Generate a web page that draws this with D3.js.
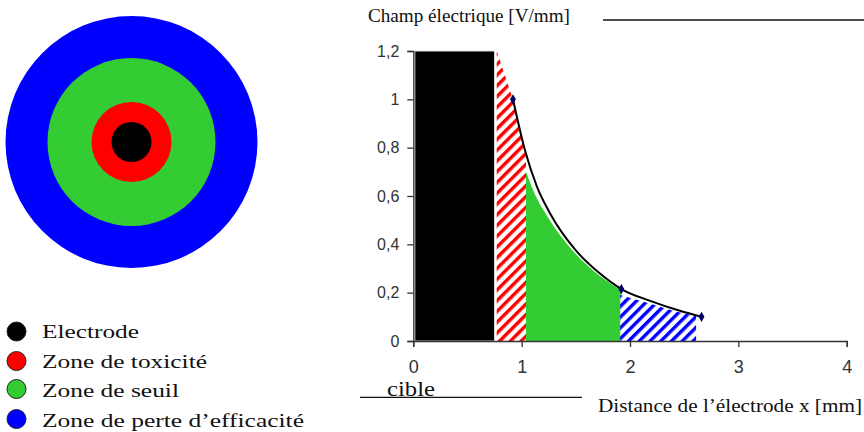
<!DOCTYPE html>
<html><head><meta charset="utf-8">
<script src="https://cdn.jsdelivr.net/npm/d3@7/dist/d3.min.js"></script>
<style>body{margin:0;background:#fff}svg{display:block}</style>
</head><body><svg id="c" width="864" height="432"></svg>
<script>
// ---- data ----
const yTicks = [0, 0.2, 0.4, 0.6, 0.8, 1, 1.2];
const xTicks = [0, 1, 2, 3, 4];
const curveX = [0.92, 1.03, 1.14, 1.26, 1.5, 1.72, 1.92, 2.18, 2.46, 2.66];
const curveY = [1.0, 0.79, 0.64, 0.53, 0.375, 0.28, 0.215, 0.167, 0.125, 0.10];
const markerX = [0.92, 1.92, 2.66];
const markerY = [1.0, 0.215, 0.10];
const electrodeX = [0, 0.75];
const electrodeTop = 1.2;
const toxX = [0.77, 0.92, 1.03, 1.04];
const toxY = [1.2, 1.0, 0.79, 0.78];
const seuilX = [1.04, 1.11, 1.26, 1.5, 1.72, 1.92];
const seuilY = [0.70, 0.62, 0.50, 0.36, 0.27, 0.21];
const perteX = [1.91, 2.18, 2.46, 2.61];
const perteY = [0.19, 0.155, 0.118, 0.105];
const zoneLabels = ["Electrode", "Zone de toxicité", "Zone de seuil", "Zone de perte d’efficacité"];
const yTitle = "Champ électrique [V/mm]";
const xTitle = "Distance de l’électrode x [mm]";
const targetLabel = "cible";

// ---- styles / layout ----
const zoneColors = ["#000000", "#ff0000", "#33cc33", "#0000ff"];
const ringRadii = [20, 40, 84, 126];
const legendY = [331.5, 361, 389, 419];
const legendBaseline = [338, 368, 397, 427];
const legendWidths = [97, 165, 137, 262];
const serif = "'Liberation Serif','Times New Roman',serif";
const sans = "'Liberation Sans',Arial,sans-serif";

const svg = d3.select("#c");
const defs = svg.append("defs");
function hatch(id, color) {
  const p = defs.append("pattern").attr("id", id).attr("patternUnits", "userSpaceOnUse")
    .attr("width", 7.6).attr("height", 7.6).attr("patternTransform", "rotate(45)");
  p.append("rect").attr("width", 7.6).attr("height", 7.6).attr("fill", "#fff");
  p.append("rect").attr("width", 3.4).attr("height", 7.6).attr("fill", color);
}
hatch("hRed", "#ff0000");
hatch("hBlue", "#0000ff");

// ---- target (concentric circles) ----
const cx = 131.5, cy = 142;
const rings = zoneColors.map((c, i) => ({c, r: ringRadii[i]})).reverse();
svg.append("g").selectAll("circle").data(rings).join("circle")
  .attr("cx", cx).attr("cy", cy).attr("r", d => d.r).attr("fill", d => d.c);

// ---- legend ----
const lg = svg.append("g");
zoneLabels.forEach((t, i) => {
  lg.append("circle").attr("cx", 16.5).attr("cy", legendY[i]).attr("r", 9.5)
    .attr("fill", zoneColors[i]).attr("stroke", "#222").attr("stroke-width", 1);
  lg.append("text").attr("x", 42).attr("y", legendBaseline[i]).text(t)
    .attr("font-family", serif).attr("font-size", 19.5).attr("fill", "#111")
    .attr("textLength", legendWidths[i]).attr("lengthAdjust", "spacingAndGlyphs");
});

// ---- chart ----
const x = d3.scaleLinear().domain([0, 4]).range([413.3, 846.7]);
const y = d3.scaleLinear().domain([0, 1.2]).range([341, 51]);
const fmt = d => String(+d.toFixed(1)).replace(".", ",");

const plot = svg.append("g");
// electrode block
plot.append("rect").attr("x", x(electrodeX[0]) + 1.5).attr("y", y(electrodeTop))
  .attr("width", x(electrodeX[1]) - x(electrodeX[0]) - 1.5).attr("height", y(0) - y(electrodeTop))
  .attr("fill", "#000").attr("stroke", "#ddd").attr("stroke-width", 1);

const areaLin = d3.area().x(d => x(d[0])).y0(y(0)).y1(d => y(d[1]));
const areaMono = d3.area().x(d => x(d[0])).y0(y(0)).y1(d => y(d[1])).curve(d3.curveMonotoneX);
plot.append("path").attr("d", areaLin(toxX.map((v, i) => [v, toxY[i]]))).attr("fill", "url(#hRed)");
plot.append("path").attr("d", areaMono(seuilX.map((v, i) => [v, seuilY[i]]))).attr("fill", "#33cc33");
plot.append("path").attr("d", areaMono(perteX.map((v, i) => [v, perteY[i]]))).attr("fill", "url(#hBlue)");

// curve
const line = d3.line().x(d => x(d[0])).y(d => y(d[1])).curve(d3.curveMonotoneX);
plot.append("path").attr("d", line(curveX.map((v, i) => [v, curveY[i]])))
  .attr("fill", "none").attr("stroke", "#000").attr("stroke-width", 2);
plot.selectAll(".mk").data(markerX.map((v, i) => [v, markerY[i]])).join("path")
  .attr("transform", d => `translate(${x(d[0])},${y(d[1])})`)
  .attr("d", d3.symbol(d3.symbolDiamond, 30)).attr("fill", "#000066");

// axes
const yAxis = svg.append("g").attr("transform", `translate(${x(0)},0)`)
  .call(d3.axisLeft(y).tickValues(yTicks).tickFormat(fmt).tickSize(6).tickSizeOuter(6).tickPadding(8));
const xAxis = svg.append("g").attr("transform", `translate(0,${y(0)})`)
  .call(d3.axisBottom(x).tickValues(xTicks).tickFormat(d3.format("d")).tickSize(6).tickSizeOuter(6).tickPadding(13));
[yAxis, xAxis].forEach(a => {
  a.selectAll("path,line").attr("stroke", "#333").attr("stroke-width", 1.3);
  a.selectAll("text").attr("font-family", sans).attr("fill", "#333");
});
yAxis.selectAll("text").attr("font-size", 16);
xAxis.selectAll("text").attr("font-size", 18);

// titles and decorative rules
svg.append("text").attr("x", 368).attr("y", 22).text(yTitle)
  .attr("font-family", serif).attr("font-size", 18).attr("fill", "#111")
  .attr("textLength", 202).attr("lengthAdjust", "spacingAndGlyphs");
svg.append("line").attr("x1", 603).attr("x2", 864).attr("y1", 20).attr("y2", 20)
  .attr("stroke", "#111").attr("stroke-width", 1.3);
svg.append("text").attr("x", 387).attr("y", 395.5).text(targetLabel)
  .attr("font-family", serif).attr("font-size", 20).attr("fill", "#111")
  .attr("textLength", 48).attr("lengthAdjust", "spacingAndGlyphs");
svg.append("line").attr("x1", 360).attr("x2", 582).attr("y1", 397.3).attr("y2", 397.3)
  .attr("stroke", "#111").attr("stroke-width", 1.3);
svg.append("text").attr("x", 598).attr("y", 411.5).text(xTitle)
  .attr("font-family", serif).attr("font-size", 19).attr("fill", "#111")
  .attr("textLength", 264).attr("lengthAdjust", "spacingAndGlyphs");
</script></body></html>
